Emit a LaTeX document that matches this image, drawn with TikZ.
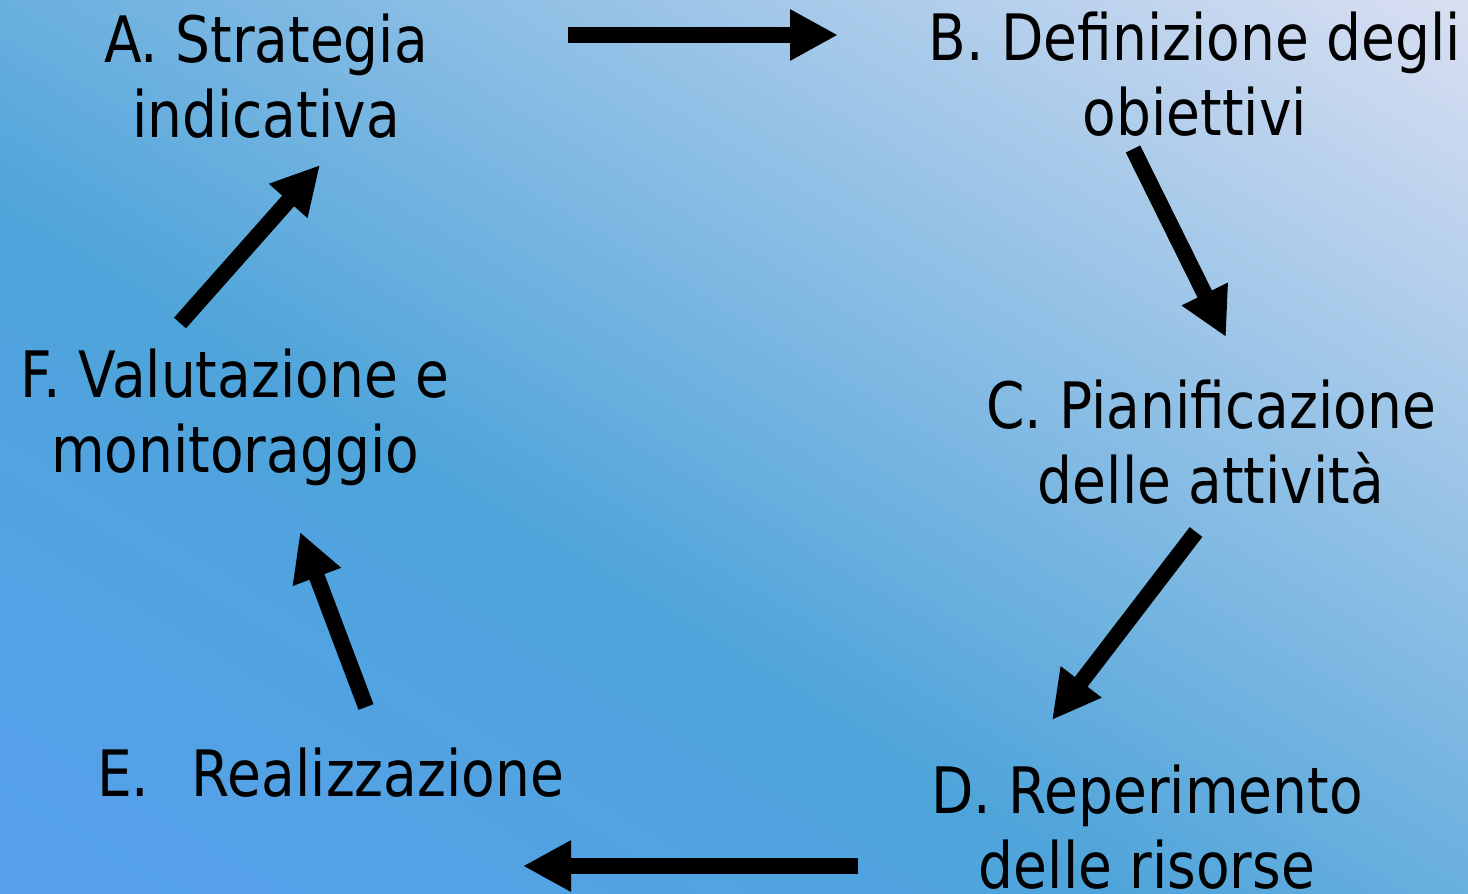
\documentclass[tikz,border=0pt]{standalone}
\usepackage{fontspec}
\setmainfont{DejaVu Sans}[FakeStretch=0.86]
\usetikzlibrary{arrows.meta}
\definecolor{cBL}{HTML}{58A0EE}
\definecolor{cMid}{HTML}{4EA4DA}
\definecolor{cTR}{HTML}{DADFF2}
\pgfdeclarehorizontalshading{bgshade}{100bp}{color(0bp)=(cBL); color(25bp)=(cBL); color(44bp)=(cMid); color(75bp)=(cTR); color(100bp)=(cTR)}
\tikzset{
  lbl/.style={inner sep=0pt, outer sep=0pt, align=center, anchor=base, font=\fontsize{64}{75}\selectfont},
  bigarrow/.style={line width=16pt, -{Triangle[length=48pt,width=48pt]}, black}
}
\begin{document}
\begin{tikzpicture}[x=1pt,y=-1pt]
\useasboundingbox (0,0) rectangle (1468,894);
\begin{scope}
\clip (0,0) rectangle (1468,894);
\begin{scope}[transform canvas={shift={(734,447)}, rotate=58.66}]
\shade[shading=bgshade] (-763.65,-950) rectangle (763.65,950);
\end{scope}
\end{scope}
% labels (base anchor = baseline of the last line)
\node[lbl] (A) at (266,137) {A. Strategia\\indicativa};
\node[lbl] (B) at (1195,135) {B. Definizione degli\\obiettivi};
\node[lbl] (C) at (1211,503) {C. Pianificazione\\delle attività};
\node[lbl] (D) at (1147,888) {D. Reperimento\\delle risorse};
\node[lbl, anchor=base west] (E) at (97,796) {\makebox[95pt][l]{E.}Realizzazione};
\node[lbl] (F) at (235,472) {F. Valutazione e\\monitoraggio};
% arrow end points
\coordinate (ab1) at (568,35);   \coordinate (ab2) at (838,35);
\coordinate (bc1) at (1133,149); \coordinate (bc2) at (1226,337);
\coordinate (cd1) at (1196,532); \coordinate (cd2) at (1052,720);
\coordinate (de1) at (858,866);  \coordinate (de2) at (523,866);
\coordinate (ef1) at (366,707);  \coordinate (ef2) at (300,532);
\coordinate (fa1) at (180,323);  \coordinate (fa2) at (320,165);
\draw[bigarrow] (ab1) -- (ab2);
\draw[bigarrow] (bc1) -- (bc2);
\draw[bigarrow] (cd1) -- (cd2);
\draw[bigarrow] (de1) -- (de2);
\draw[bigarrow] (ef1) -- (ef2);
\draw[bigarrow] (fa1) -- (fa2);
\end{tikzpicture}
\end{document}
